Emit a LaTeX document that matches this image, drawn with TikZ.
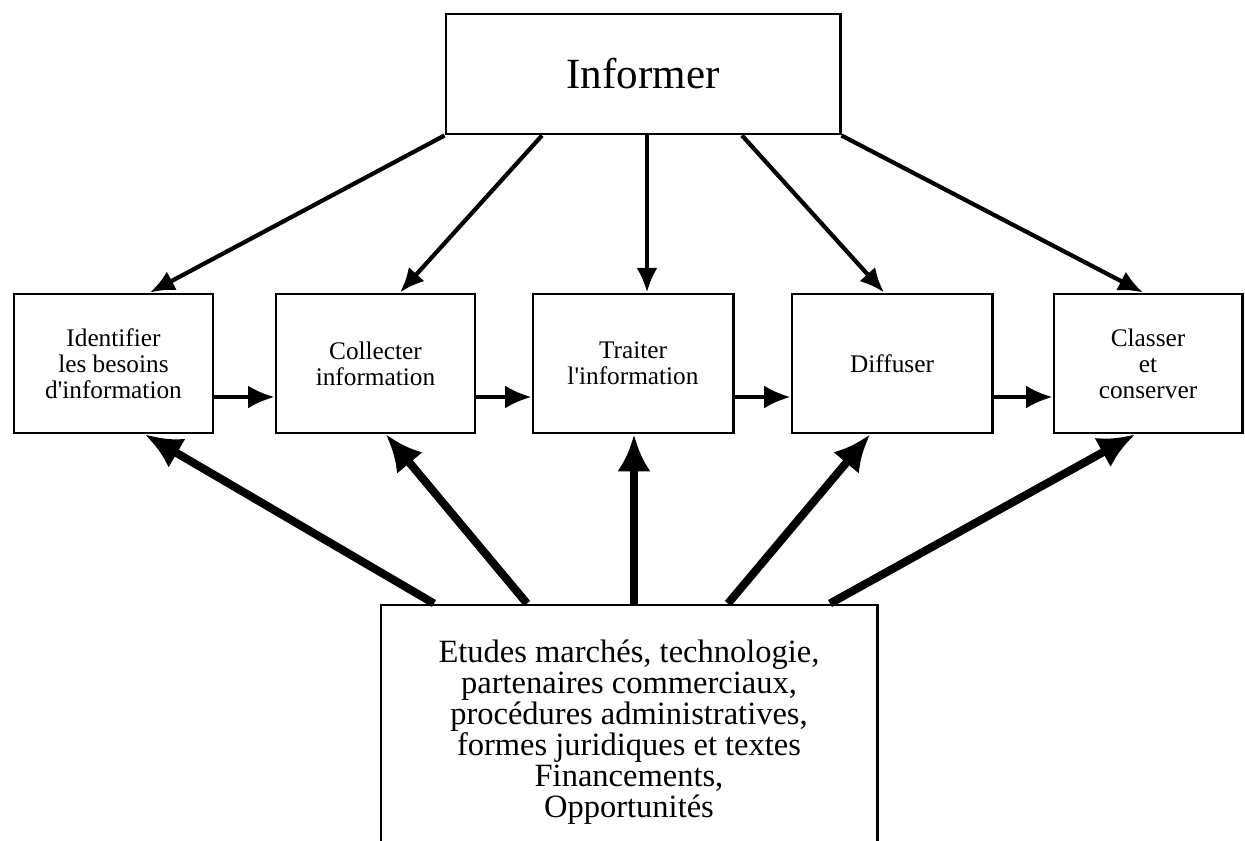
\documentclass[tikz,border=0pt]{standalone}
\usepackage{fontspec}
\setmainfont{Liberation Serif}[Ligatures=TeXOff]
\usetikzlibrary{arrows.meta}
\begin{document}
\begin{tikzpicture}[x=0.2mm,y=-0.2mm,
  box/.style={draw,line width=1.7pt,align=center,inner sep=0pt},
  stage/.style={box,minimum height=27.8mm,font=\fontsize{14.4}{14.8}\selectfont},
  down/.style={line width=2.4pt,-{Latex[length=14pt,width=12pt]}},
  next/.style={line width=2pt,-{Latex[length=15pt,width=13pt]}},
  up/.style={line width=4.6pt,-{Latex[length=21pt,width=19pt]}}]
\useasboundingbox (0,0) rectangle (1245,841);
\node[box,minimum width=78.8mm,minimum height=24mm,font=\fontsize{24.5}{28}\selectfont] (inf) at (643,74) {Informer};
\node[stage,minimum width=39.8mm] (ident) at (113.5,363.5) {Identifier\\les besoins\\d'information};
\node[stage,minimum width=39.8mm] (coll) at (375.5,363.5) {Collecter\\information};
\node[stage,minimum width=40mm] (trait) at (633,363.5) {Traiter\\l'information};
\node[stage,minimum width=40mm] (diff) at (892,363.5) {Diffuser};
\node[stage,minimum width=37.6mm] (class) at (1148,363.5) {Classer\\et\\conserver};
\node[box,minimum width=99.2mm,minimum height=50.8mm,font=\fontsize{18.5}{17.6}\selectfont] (src) at (629,732) {Etudes marchés, technologie,\\partenaires commerciaux,\\procédures administratives,\\formes juridiques et textes\\Financements,\\Opportunités};
\draw[down] (inf.south west) -- (ident.north -| 150,0);
\draw[down] (inf.south -| 542,0) -- (coll.north -| 400,0);
\draw[down] (inf.south -| 647,0) -- (trait.north -| 647,0);
\draw[down] (inf.south -| 742,0) -- (diff.north -| 884,0);
\draw[down] (inf.south east) -- (class.north -| 1143,0);
\draw[next] (ident.east |- 0,397) -- (coll.west |- 0,397);
\draw[next] (coll.east |- 0,397) -- (trait.west |- 0,397);
\draw[next] (trait.east |- 0,397) -- (diff.west |- 0,397);
\draw[next] (diff.east |- 0,397) -- (class.west |- 0,397);
\draw[up] (src.north -| 434,0) -- (ident.south -| 145,0);
\draw[up] (src.north -| 527,0) -- (coll.south -| 386,0);
\draw[up] (src.north -| 634,0) -- (trait.south -| 634,0);
\draw[up] (src.north -| 728,0) -- (diff.south -| 870,0);
\draw[up] (src.north -| 830,0) -- (class.south -| 1135,0);
\end{tikzpicture}
\end{document}
